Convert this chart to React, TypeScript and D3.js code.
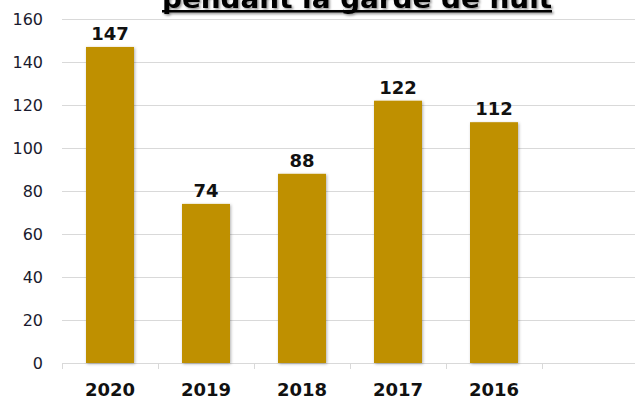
import React, { useEffect, useRef } from "react";
import * as d3 from "d3";

// données
const annees = ["2020", "2019", "2018", "2017", "2016", ""];
const valeurs = [147, 74, 88, 122, 112, null];
const graduations = [0, 20, 40, 60, 80, 100, 120, 140, 160];
const titre = "pendant la garde de nuit";

const largeur = 635;
const hauteur = 401;
const couleurBarre = "#BF9000";

export default function App() {
  const refGrafico = useRef<SVGSVGElement>(null);

  useEffect(() => {
    const svg = d3.select(refGrafico.current);
    svg.selectAll("*").remove();

    const x = d3
      .scaleBand<string>()
      .domain(annees.map((a, i) => a + "_" + i))
      .range([62, 638])
      .paddingInner(0.5)
      .paddingOuter(0.25);

    const y = d3.scaleLinear().domain([0, 160]).range([363, 19]);

    // ombre des barres
    const defs = svg.append("defs");
    const f = defs
      .append("filter")
      .attr("id", "ombre")
      .attr("x", "-20%")
      .attr("y", "-20%")
      .attr("width", "140%")
      .attr("height", "140%");
    f.append("feDropShadow")
      .attr("dx", 1)
      .attr("dy", 1)
      .attr("stdDeviation", 1.5)
      .attr("flood-color", "#000")
      .attr("flood-opacity", 0.3);

    const ombreTexte = defs
      .append("filter")
      .attr("id", "ombreTexte")
      .attr("x", "-10%")
      .attr("y", "-50%")
      .attr("width", "120%")
      .attr("height", "200%");
    ombreTexte
      .append("feDropShadow")
      .attr("dx", 1.5)
      .attr("dy", 1.5)
      .attr("stdDeviation", 1)
      .attr("flood-color", "#000")
      .attr("flood-opacity", 0.45);

    // grille
    svg
      .append("g")
      .selectAll("line")
      .data(graduations)
      .join("line")
      .attr("x1", 62)
      .attr("x2", largeur)
      .attr("y1", (d) => Math.round(y(d)) + 0.5)
      .attr("y2", (d) => Math.round(y(d)) + 0.5)
      .attr("stroke", "#d9d9d9")
      .attr("stroke-width", 1);

    // étiquettes de l'axe y
    svg
      .append("g")
      .selectAll("text")
      .data(graduations)
      .join("text")
      .attr("x", 43)
      .attr("y", (d) => y(d))
      .attr("dy", "0.36em")
      .attr("text-anchor", "end")
      .attr("font-family", "DejaVu Sans")
      .attr("font-size", 16)
      .attr("fill", "#1a1a2e")
      .text((d) => d);

    // graduations de l'axe x
    const bornes = x.domain().map((d) => (x(d) as number) - x.step() * 0.25);
    bornes.push(bornes[bornes.length - 1] + x.step());
    svg
      .append("g")
      .selectAll("line")
      .data(bornes)
      .join("line")
      .attr("x1", (d) => Math.round(d) + 0.5)
      .attr("x2", (d) => Math.round(d) + 0.5)
      .attr("y1", 363)
      .attr("y2", 369)
      .attr("stroke", "#d9d9d9");

    // barres
    const donnees = x.domain().map((k, i) => ({ k, v: valeurs[i], a: annees[i] }));
    svg
      .append("g")
      .selectAll("rect")
      .data(donnees.filter((d) => d.v !== null))
      .join("rect")
      .attr("x", (d) => x(d.k) as number)
      .attr("width", x.bandwidth())
      .attr("y", (d) => y(d.v as number))
      .attr("height", (d) => y(0) - y(d.v as number))
      .attr("fill", couleurBarre)
      .attr("filter", "url(#ombre)");

    // étiquettes de valeurs
    svg
      .append("g")
      .selectAll("text")
      .data(donnees.filter((d) => d.v !== null))
      .join("text")
      .attr("x", (d) => (x(d.k) as number) + x.bandwidth() / 2)
      .attr("y", (d) => y(d.v as number) - 7)
      .attr("text-anchor", "middle")
      .attr("font-family", "DejaVu Sans")
      .attr("font-weight", "bold")
      .attr("font-size", 18)
      .attr("fill", "#111")
      .text((d) => d.v as number);

    // catégories
    svg
      .append("g")
      .selectAll("text")
      .data(donnees)
      .join("text")
      .attr("x", (d) => (x(d.k) as number) + x.bandwidth() / 2)
      .attr("y", 396)
      .attr("text-anchor", "middle")
      .attr("font-family", "DejaVu Sans")
      .attr("font-weight", "bold")
      .attr("font-size", 18)
      .attr("fill", "#111")
      .text((d) => d.a);

    // titre (coupé en haut)
    const gt = svg.append("g").attr("filter", "url(#ombreTexte)");
    gt.append("text")
      .attr("x", 357)
      .attr("y", 8)
      .attr("text-anchor", "middle")
      .attr("font-family", "DejaVu Sans")
      .attr("font-weight", "bold")
      .attr("font-size", 27)
      .attr("textLength", 390)
      .attr("lengthAdjust", "spacingAndGlyphs")
      .attr("fill", "#000")
      .text(titre);
    gt.append("rect")
      .attr("x", 162)
      .attr("y", 10)
      .attr("width", 390)
      .attr("height", 2.5)
      .attr("fill", "#000");
  }, []);

  return (
    <svg
      ref={refGrafico}
      width={largeur}
      height={hauteur}
      style={{ position: "absolute", top: 0, left: 0, background: "#fff" }}
    ></svg>
  );
}
